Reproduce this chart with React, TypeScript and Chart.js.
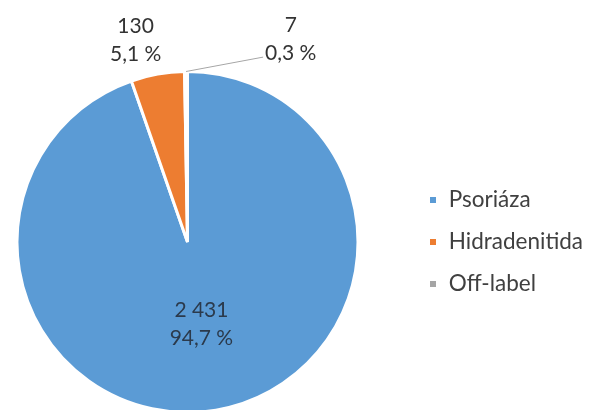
import React, { useEffect, useRef } from "react";
import { Chart, registerables } from "chart.js";

Chart.register(...registerables);

// ---- data ----
const categories = ["Psoriáza", "Hidradenitida", "Off-label"];
const counts = [2431, 130, 7];
const colors = ["#5B9BD5", "#ED7D31", "#A5A5A5"];

// ---- label placement (style) ----
const labelRadius = [0.49, 1.2, 1.19];
const labelShiftX = [0, -16, 105];
const labelLeader = [false, false, true];

const FONT_FAMILY = "Lato";
const LABEL_SIZE = 21;
const LEGEND_SIZE = 22.5;
const LEGEND_PAD = 19.5;
const BOX = 9;
const CANVAS_LEFT = LEGEND_PAD - 54;
const PIE_AREA_W = 2 * (187 - CANVAS_LEFT);
const CANVAS_W = 720;
const CANVAS_H = 420;

const fmtCount = (v: number) => String(v).replace(/\B(?=(\d{3})+(?!\d))/g, " ");
const fmtPct = (v: number, total: number) => ((v / total) * 100).toFixed(1).replace(".", ",") + " %";

const labelPlugin = {
  id: "sliceLabels",
  afterDatasetsDraw(chart: any) {
    const ctx = chart.ctx as CanvasRenderingContext2D;
    const meta = chart.getDatasetMeta(0);
    const data = chart.data.datasets[0].data as number[];
    const total = data.reduce((a, b) => a + b, 0);
    ctx.save();
    ctx.font = `${LABEL_SIZE}px ${FONT_FAMILY}`;
    ctx.textAlign = "center";
    ctx.textBaseline = "middle";
    meta.data.forEach((arc: any, i: number) => {
      const { x, y, startAngle, endAngle, outerRadius } = arc.getProps(
        ["x", "y", "startAngle", "endAngle", "outerRadius"],
        true
      );
      const mid = (startAngle + endAngle) / 2;
      const r = outerRadius * labelRadius[i];
      const px = x + Math.cos(mid) * r + labelShiftX[i];
      const py = y + Math.sin(mid) * r;
      const l1 = fmtCount(data[i]);
      const l2 = fmtPct(data[i], total);
      if (labelLeader[i]) {
        const w2 = ctx.measureText(l2).width;
        ctx.strokeStyle = "#A6A6A6";
        ctx.lineWidth = 1;
        ctx.beginPath();
        ctx.moveTo(x + Math.cos(mid) * outerRadius, y + Math.sin(mid) * outerRadius);
        ctx.lineTo(px - w2 / 2 - 2, py + 18);
        ctx.stroke();
      }
      ctx.fillStyle = i === 0 ? "#2B3A4C" : "#333333";
      ctx.fillText(l1, px, py - 14);
      ctx.fillText(l2, px, py + 14);
    });
    ctx.restore();
  },
};

export default function App() {
  const ref = useRef<HTMLCanvasElement | null>(null);

  useEffect(() => {
    const canvas = ref.current;
    if (!canvas) return;
    const mctx = document.createElement("canvas").getContext("2d")!;
    mctx.font = `${LEGEND_SIZE}px ${FONT_FAMILY}`;
    const maxText = Math.max(...categories.map((c) => mctx.measureText(c).width));
    const legendW = LEGEND_PAD + BOX + LEGEND_SIZE / 2 + maxText + 10;
    const padRight = Math.max(0, CANVAS_W - PIE_AREA_W - legendW);

    const chart = new Chart(canvas, {
      type: "pie",
      data: {
        labels: categories,
        datasets: [
          {
            data: counts,
            backgroundColor: colors,
            borderColor: "#FFFFFF",
            borderWidth: 3,
          },
        ],
      },
      options: {
        responsive: false,
        animation: false,
        layout: { padding: { top: 70, bottom: 6, left: 0, right: padRight } },
        plugins: {
          tooltip: { enabled: false },
          legend: {
            position: "right",
            align: "center",
            labels: {
              boxWidth: BOX,
              boxHeight: BOX,
              padding: LEGEND_PAD,
              color: "#404040",
              font: { family: FONT_FAMILY, size: LEGEND_SIZE },
            },
          },
        },
      },
      plugins: [labelPlugin],
    });
    return () => chart.destroy();
  }, []);

  return (
    <div
      style={{
        position: "absolute",
        left: 0,
        top: 0,
        width: 589,
        height: 410,
        overflow: "hidden",
        background: "#FFFFFF",
      }}
    >
      <canvas
        ref={ref}
        width={CANVAS_W}
        height={CANVAS_H}
        style={{ position: "absolute", left: CANVAS_LEFT, top: 0, width: CANVAS_W, height: CANVAS_H }}
      />
    </div>
  );
}
